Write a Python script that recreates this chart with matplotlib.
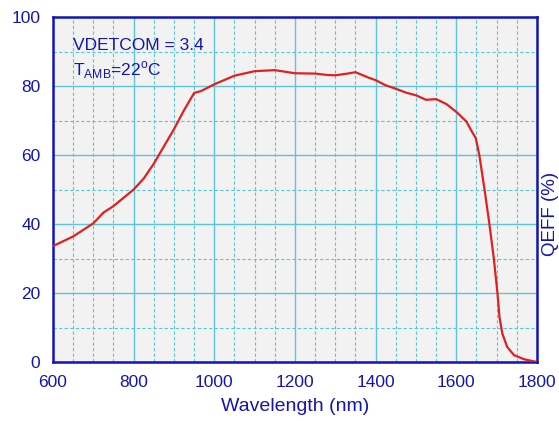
import numpy as np
import matplotlib
matplotlib.use("Agg")
from matplotlib import pyplot as plt
from matplotlib.ticker import MultipleLocator

# wavelength (nm) vs quantum efficiency (%)
wavelength = [600, 650, 700, 725, 750, 800, 825, 850, 875, 900, 925, 950, 966, 980,
              1000, 1050, 1100, 1150, 1200, 1250, 1280, 1300, 1330, 1350, 1383, 1400,
              1425, 1450, 1475, 1500, 1525, 1550, 1575, 1600, 1625, 1640, 1648, 1657,
              1670, 1682, 1693, 1702, 1707, 1714, 1726, 1743, 1768, 1800]
qeff = [33.6, 36.4, 40.2, 43.3, 45.2, 50.0, 53.2, 57.5, 62.5, 67.5, 73.0, 78.0, 78.5, 79.3,
        80.5, 83.0, 84.3, 84.6, 83.7, 83.6, 83.2, 83.1, 83.6, 84.0, 82.4, 81.7,
        80.2, 79.2, 78.1, 77.3, 76.0, 76.2, 74.8, 72.5, 69.7, 66.5, 65.0, 60.0,
        50.0, 40.0, 30.0, 20.0, 13.0, 8.3, 4.4, 2.0, 0.8, 0.0]

x_ticks = [600, 800, 1000, 1200, 1400, 1600, 1800]
y_ticks = [0, 20, 40, 60, 80, 100]

blue = "#1414b4"
grid_c = "#5ec4dc"

plt.rcParams['font.family'] = ['Liberation Sans', 'DejaVu Sans']
plt.rcParams['mathtext.fontset'] = 'custom'
plt.rcParams['mathtext.rm'] = 'Liberation Sans'

fig = plt.figure(figsize=(5.59, 4.21), dpi=100)
ax = fig.add_axes([0.0948, 0.1401, 0.8658, 0.8195])
ax.set_facecolor("#f2f2f2")

ax.plot(wavelength, qeff, color="#e02020", lw=1.6, zorder=3)

ax.set_xlim(600, 1800)
ax.set_ylim(0, 100)
ax.set_xticks(x_ticks)
ax.set_yticks(y_ticks)
ax.xaxis.set_minor_locator(MultipleLocator(50))
ax.yaxis.set_minor_locator(MultipleLocator(10))
ax.grid(which='major', color=grid_c, lw=1.0, ls='-')
ax.grid(which='minor', color=grid_c, lw=0.8, ls=(0, (3, 2)))
ax.set_axisbelow(True)

ax.tick_params(which='both', length=0, colors=blue, labelsize=12.5)
ax.tick_params(axis='x', pad=9)
ax.tick_params(axis='y', pad=9)
for s in ax.spines.values():
    s.set_color(blue)
    s.set_linewidth(1.8)

ax.set_xlabel("Wavelength (nm)", color=blue, fontsize=14, labelpad=6)
ax.yaxis.set_label_position('right')
ax.set_ylabel("QEFF (%)", color=blue, fontsize=13.5)
ax.yaxis.set_label_coords(1.01, 0.43)

ax.text(0.041, 0.94, "VDETCOM = 3.4", transform=ax.transAxes, color=blue,
        fontsize=12.5, va='top')
ax.text(0.041, 0.878, r"T$_{\rm AMB}$=22$^{\rm o}$C", transform=ax.transAxes,
        color=blue, fontsize=12.5, va='top')

fig.savefig("out.png", dpi=100)
